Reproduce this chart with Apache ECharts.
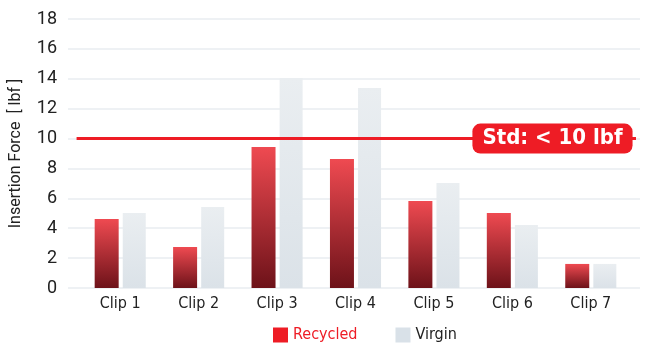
<!DOCTYPE html>
<html><head><meta charset="utf-8">
<script src="https://cdn.jsdelivr.net/npm/echarts@6/dist/echarts.min.js"></script>
<style>html,body{margin:0;padding:0;background:#fff}#c{width:646px;height:343px}</style>
</head><body><div id="c"></div>
<script>
const categories = ['Clip 1','Clip 2','Clip 3','Clip 4','Clip 5','Clip 6','Clip 7'];
const recycled = [4.62, 2.74, 9.44, 8.63, 5.82, 5.02, 1.61];
const virgin = [5.02, 5.42, 14.05, 13.39, 7.03, 4.22, 1.61];
const stdValue = 10;
const stdLabel = 'Std: < 10 lbf';
const yTitle = 'Insertion Force  [ lbf ]';

const chart = echarts.init(document.getElementById('c'), null, {renderer:'canvas'});
const red = '#ee1c25';
const cond = '"DejaVu Sans Condensed", "DejaVu Sans", sans-serif';
const recGrad = new echarts.graphic.LinearGradient(0,0,0,1,[{offset:0,color:'#ef4a51'},{offset:1,color:'#6d1219'}]);
const virGrad = new echarts.graphic.LinearGradient(0,0,0,1,[{offset:0,color:'#eaeef1'},{offset:1,color:'#dbe2e8'}]);
const gTop = 19, gBottom = 55;
chart.setOption({
  animation:false,
  grid:[
    {left:63, right:6, top:gTop, bottom:gBottom},
    {left:81, right:16, top:gTop, bottom:gBottom}
  ],
  legend:{
    left:268, bottom:-5, itemWidth:15, itemHeight:15, itemGap:38,
    icon:'rect',
    data:[
      {name:'Recycled', itemStyle:{color:red}, textStyle:{color:red}},
      {name:'Virgin', itemStyle:{color:'#d9e1e8'}, textStyle:{color:'#222'}}
    ],
    textStyle:{fontFamily:cond, fontSize:16}
  },
  xAxis:[
    {gridIndex:0, type:'value', min:0, max:1, show:false},
    {gridIndex:1, type:'category', data:categories,
      axisLine:{show:false}, axisTick:{show:false},
      axisLabel:{color:'#222', fontFamily:cond, fontSize:16, margin:8}}
  ],
  yAxis:[
    {gridIndex:0, type:'value', min:0, max:18, interval:2,
      name:yTitle, nameLocation:'middle', nameGap:44, nameRotate:90,
      nameTextStyle:{color:'#222', fontFamily:'Roboto', fontSize:16},
      axisLine:{show:false}, axisTick:{show:false},
      axisLabel:{color:'#222', fontFamily:'Roboto', fontSize:18, margin:11},
      splitLine:{lineStyle:{color:'#eef1f4', width:2}}},
    {gridIndex:1, type:'value', min:0, max:18, interval:2, show:false, splitLine:{show:false}}
  ],
  series:[
    {name:'Recycled', type:'bar', xAxisIndex:1, yAxisIndex:1, data:recycled,
      barWidth:24, barGap:'17%', itemStyle:{color:recGrad}},
    {name:'Virgin', type:'bar', xAxisIndex:1, yAxisIndex:1, data:virgin,
      barWidth:23, itemStyle:{color:virGrad}},
    {name:'std', type:'line', xAxisIndex:0, yAxisIndex:0,
      data:[[0.015, stdValue],[0.993, stdValue]], symbol:'none', z:5,
      lineStyle:{color:red, width:3}},
    {name:'stdLabel', type:'scatter', xAxisIndex:0, yAxisIndex:0, z:10,
      data:[[0.847, stdValue]], symbolSize:0, silent:true,
      itemStyle:{opacity:1},
      label:{show:true, position:'inside', formatter:stdLabel, color:'#fff',
        fontFamily:cond, fontWeight:'bold', fontSize:22, opacity:1,
        backgroundColor:red, borderRadius:8, padding:[4,10,4,10]}}
  ]
});
</script></body></html>
